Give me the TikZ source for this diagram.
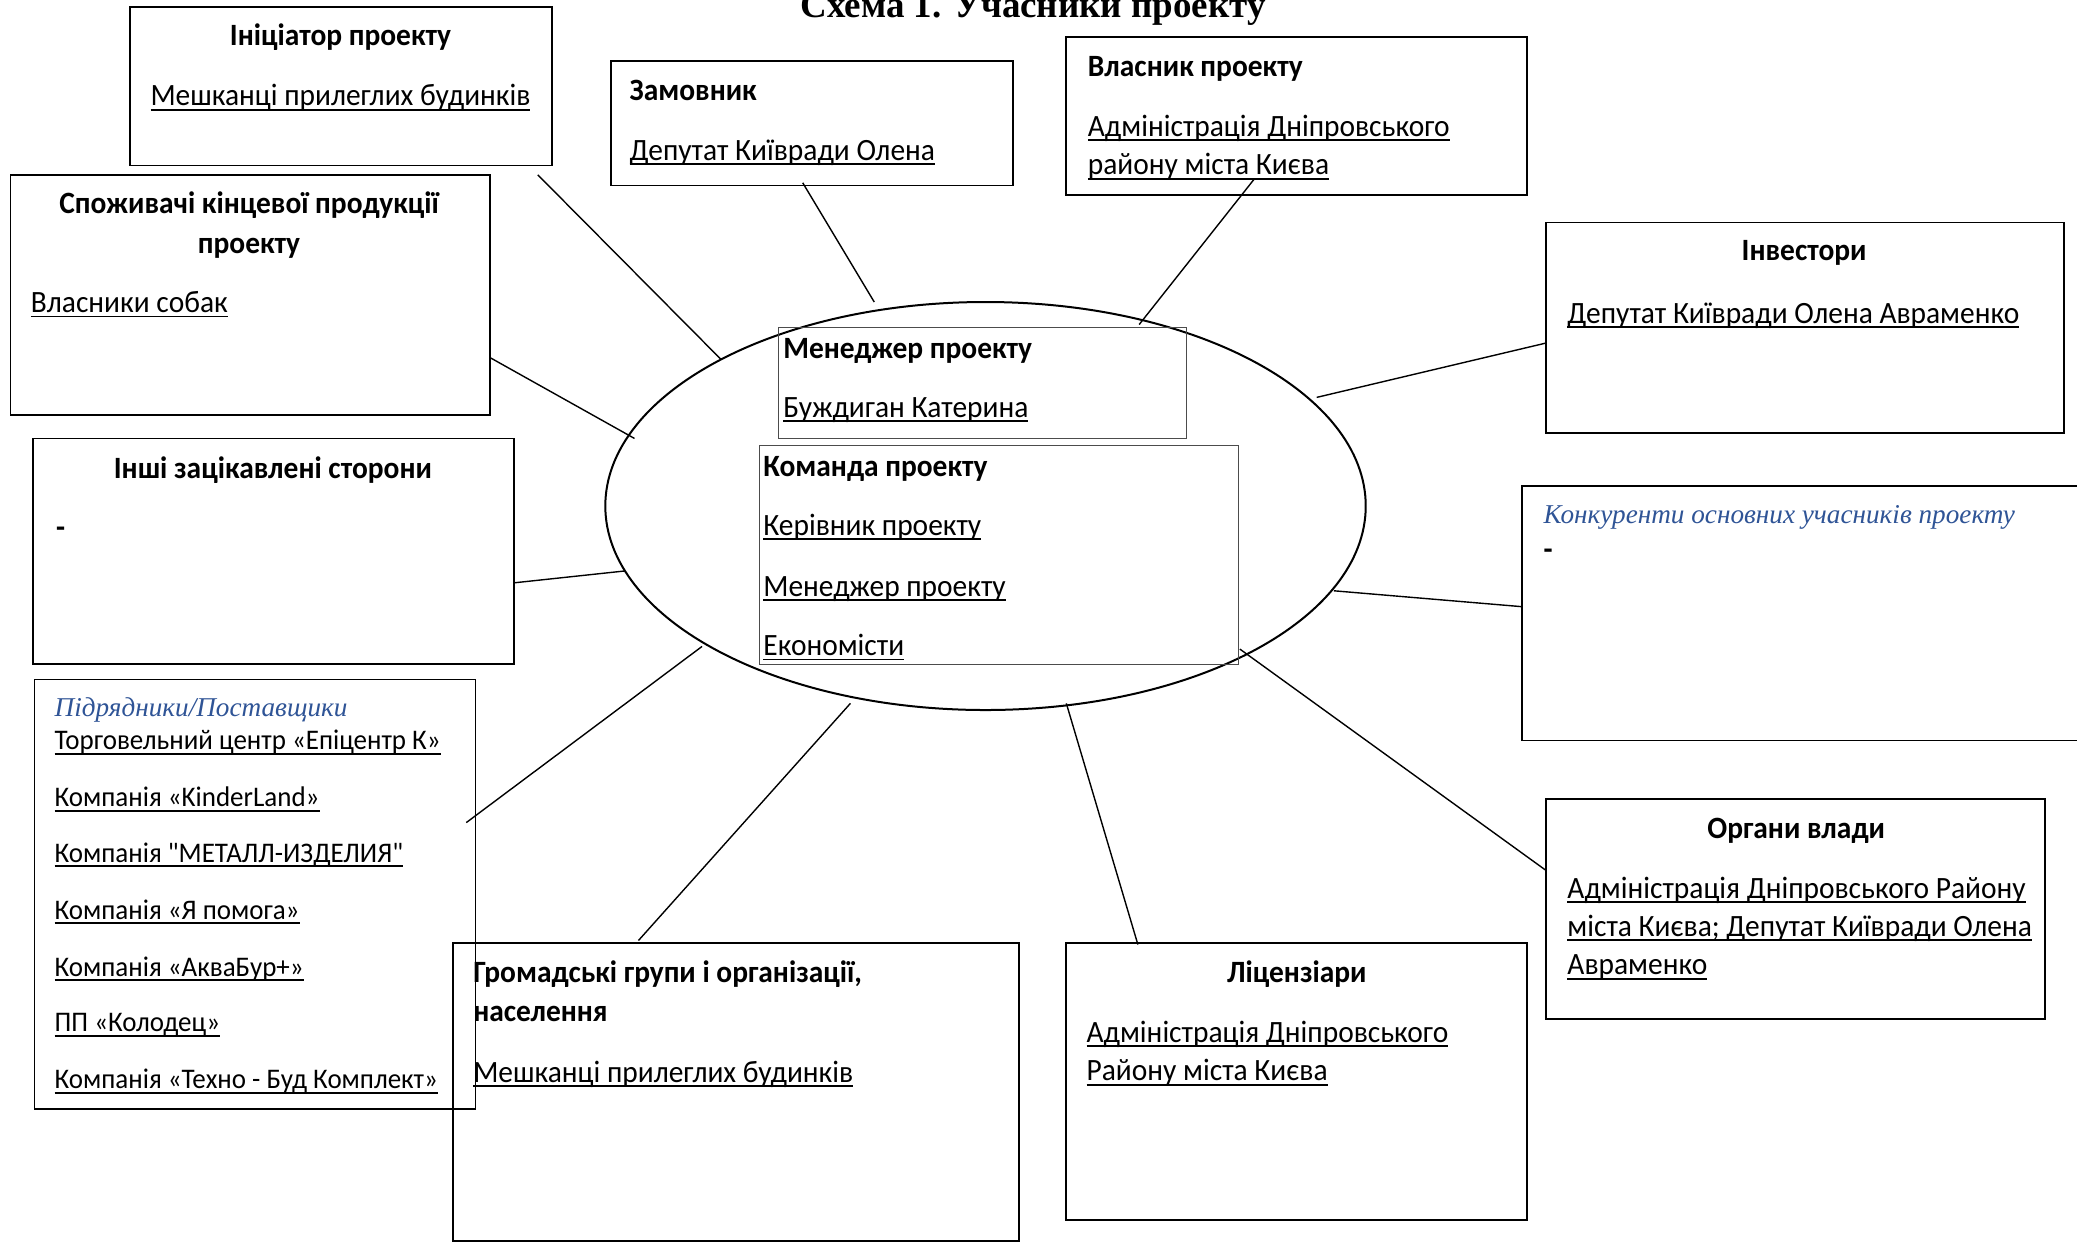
\documentclass[tikz,border=0pt]{standalone}
\usepackage{fontspec}
\setmainfont{Carlito}[FakeStretch=0.95, Ligatures=TeXOff]
\newfontfamily\tnr{Liberation Serif}
\usetikzlibrary{fit,shapes.geometric}
\definecolor{accblue}{RGB}{47,84,150}
\newcommand\myul[1]{\setbox0\hbox{#1}\rlap{\rule[-2.4pt]{\wd0}{0.95pt}}\box0}
\tikzset{
  box/.style={draw, line width=0.9pt, inner sep=0pt},
  inbox/.style={draw=black!70, line width=0.5pt, inner sep=0pt},
  conn/.style={line width=0.7pt},
  txt/.style={inner sep=0pt, anchor=base west, font=\fontsize{15.5}{18}\selectfont},
  stxt/.style={inner sep=0pt, anchor=base west, font=\fontsize{14.2}{17}\selectfont},
  ttl/.style={inner sep=0pt, anchor=base, font=\fontsize{15.5}{18}\selectfont\bfseries},
  ttlw/.style={inner sep=0pt, anchor=base west, font=\fontsize{15.5}{18}\selectfont\bfseries},
  ital/.style={inner sep=0pt, anchor=base west, text=accblue, font=\fontsize{13.6}{16}\selectfont\tnr\itshape},
}
\begin{document}
\begin{tikzpicture}[x=0.6623pt,y=-0.6623pt]
\useasboundingbox (0,0) rectangle (1568,938);
% title
\node[inner sep=0pt, anchor=base, font=\fontsize{18.5}{20}\selectfont\tnr\bfseries] (title) at (780,13) {Схема 1. Учасники проекту};
% boxes
\node[box, fit={(98,5) (417,125)}] (ini) {};
\node[box, fit={(461,46) (765,140)}] (zam) {};
\node[box, fit={(805,28) (1153,147)}] (vla) {};
\node[box, fit={(8,132) (370,313)}] (spo) {};
\node[box, fit={(1167,168) (1558,327)}] (inv) {};
\node[box, fit={(25,331) (388,501)}] (ins) {};
\node[box, fit={(1149,367) (1590,559)}] (kon) {};
\node[box, fit={(26,513) (359,837)}] (pid) {};
\node[box, fit={(342,712) (769,937)}] (hro) {};
\node[box, fit={(805,712) (1153,921)}] (lic) {};
\node[box, fit={(1167,603) (1544,769)}] (org) {};
% ellipse and inner boxes
\node[draw, ellipse, line width=1pt, minimum width=380.2pt, minimum height=204pt, inner sep=0pt] (ell) at (744,382) {};
\node[inbox, fit={(588,247) (896,331)}] (men) {};
\node[inbox, fit={(573,336) (935,502)}] (kom) {};
% texts
\node[ttl] (iniT) at (257,34) {Ініціатор проекту};
\node[txt, anchor=base] (ini1) at (257,80) {\myul{Мешканці прилеглих будинків}};
\node[ttlw] (zamT) at (475,76) {Замовник};
\node[txt] (zam1) at (475,121) {\myul{Депутат Київради Олена}};
\node[ttlw] (vlaT) at (821,58) {Власник проекту};
\node[txt] (vla1) at (821,103) {\myul{Адміністрація Дніпровського}};
\node[txt] (vla2) at (821,132) {\myul{району міста Києва}};
\node[ttl] (spoT) at (188,161) {Споживачі кінцевої продукції};
\node[ttl] (spoT2) at (188,191) {проекту};
\node[txt] (spo1) at (23,236) {\myul{Власники собак}};
\node[ttl] (invT) at (1362,197) {Інвестори};
\node[txt] (inv1) at (1183,244) {\myul{Депутат Київради Олена Авраменко}};
\node[ttl] (insT) at (206,361) {Інші зацікавлені сторони};
\node[txt] (ins1) at (42,406) {\textbf{-}};
\node[ital] (konT) at (1165,395) {Конкуренти основних учасників проекту};
\node[txt] (kon1) at (1165,422) {\textbf{-}};
\node[ital] (pidT) at (41,541) {Підрядники/Поставщики};
\node[stxt] (pid1) at (41,566) {\myul{Торговельний центр «Епіцентр К»}};
\node[stxt] (pid2) at (41,609) {\myul{Компанія «KinderLand»}};
\node[stxt] (pid3) at (41,651) {\myul{Компанія "МЕТАЛЛ-ИЗДЕЛИЯ"}};
\node[stxt] (pid4) at (41,694) {\myul{Компанія «Я помога»}};
\node[stxt] (pid5) at (41,737) {\myul{Компанія «АкваБур+»}};
\node[stxt] (pid6) at (41,779) {\myul{ПП «Колодец»}};
\node[stxt] (pid7) at (41,822) {\myul{Компанія «Техно - Буд Комплект»}};
\node[ttlw] (hroT) at (357,742) {Громадські групи і організації,};
\node[ttlw] (hroT2) at (357,771) {населення};
\node[txt] (hro1) at (357,817) {\myul{Мешканці прилеглих будинків}};
\node[ttl] (licT) at (979,742) {Ліцензіари};
\node[txt] (lic1) at (820,787) {\myul{Адміністрація Дніпровського}};
\node[txt] (lic2) at (820,816) {\myul{Району міста Києва}};
\node[ttl] (orgT) at (1356,633) {Органи влади};
\node[txt] (org1) at (1183,678) {\myul{Адміністрація Дніпровського Району}};
\node[txt] (org2) at (1183,707) {\myul{міста Києва; Депутат Київради Олена}};
\node[txt] (org3) at (1183,736) {\myul{Авраменко}};
\node[ttlw] (menT) at (591,271) {Менеджер проекту};
\node[txt] (men1) at (591,315) {\myul{Буждиган Катерина}};
\node[ttlw] (komT) at (576,360) {Команда проекту};
\node[txt] (kom1) at (576,404) {\myul{Керівник проекту}};
\node[txt] (kom2) at (576,450) {\myul{Менеджер проекту}};
\node[txt] (kom3) at (576,495) {\myul{Економісти}};
% connector ends
\coordinate (a1) at (406,132); \coordinate (b1) at (544,271);
\coordinate (a2) at (606,138); \coordinate (b2) at (660,228);
\coordinate (a3) at (947,135); \coordinate (b3) at (860,245);
\coordinate (a4) at (370,270); \coordinate (b4) at (479,331);
\coordinate (a5) at (1167,259); \coordinate (b5) at (994,300);
\coordinate (a6) at (388,440); \coordinate (b6) at (472,431);
\coordinate (a7) at (1149,458); \coordinate (b7) at (1007,446);
\coordinate (a8) at (352,621); \coordinate (b8) at (530,488);
\coordinate (a9) at (482,710); \coordinate (b9) at (642,531);
\coordinate (a10) at (859,713); \coordinate (b10) at (805,531);
\coordinate (a11) at (1167,657); \coordinate (b11) at (936,490);
\foreach \i in {1,...,11} {\draw[conn] (a\i) -- (b\i);}
\end{tikzpicture}
\end{document}
